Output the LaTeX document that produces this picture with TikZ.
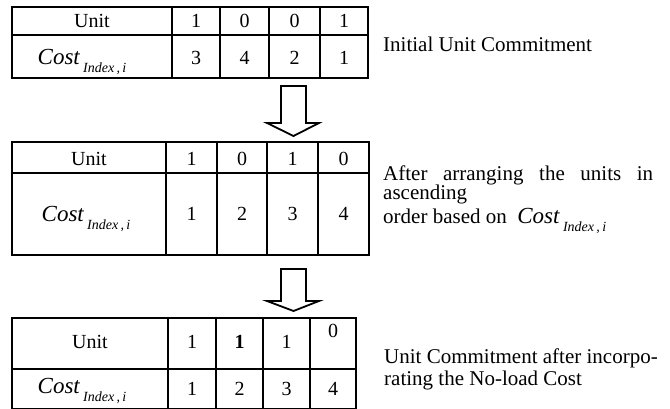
\documentclass[tikz,border=0pt]{standalone}
\usepackage{fontspec}
\setmainfont{Liberation Serif}
\newcommand{\costidx}{{\fontsize{23}{23}\selectfont\itshape Cost}\,{\fontsize{14}{14}\selectfont\itshape\raisebox{-8pt}{Index\,,\,i}}}
\tikzset{
  tbl/.style={line width=1.2pt, black},
  cell/.style={anchor=base, inner sep=0pt, font=\fontsize{20}{24}\selectfont},
  side/.style={anchor=base west, inner sep=0pt, font=\fontsize{21}{25}\selectfont},
  blockarrow/.style={line width=1.8pt, black, line join=miter, fill=white}
}
\begin{document}
\begin{tikzpicture}[x=1pt,y=-1pt]
\useasboundingbox (0,0) rectangle (670,409);
% ---------- table 1 ----------
\draw[tbl] (12,7) rectangle (368,78);
\draw[tbl] (12,35) -- (368,35);
\foreach \x in {172,220,269,320} \draw[tbl] (\x,7) -- (\x,78);
\node[cell] (t1u) at (92,28) {Unit};
\node[cell] (t1a) at (196,28) {1};
\node[cell] (t1b) at (244.5,28) {0};
\node[cell] (t1c) at (294.5,28) {0};
\node[cell] (t1d) at (344,28) {1};
\node[cell] (t1k) at (82,65) {\costidx};
\node[cell] (t1e) at (196,65) {3};
\node[cell] (t1f) at (244.5,65) {4};
\node[cell] (t1g) at (294.5,65) {2};
\node[cell] (t1h) at (344,65) {1};
\node[side] (l1) at (383,52) {Initial Unit Commitment};
% ---------- arrow 1 ----------
\draw[blockarrow] (281,86) -- (306,86) -- (306,123) -- (319,123) -- (293.5,136) -- (267,123) -- (281,123) -- cycle;
% ---------- table 2 ----------
\draw[tbl] (12,142) rectangle (369,255);
\draw[tbl] (12,173) -- (369,173);
\foreach \x in {166,217,267,318} \draw[tbl] (\x,142) -- (\x,255);
\node[cell] (t2u) at (89,166) {Unit};
\node[cell] (t2a) at (191.5,166) {1};
\node[cell] (t2b) at (242,166) {0};
\node[cell] (t2c) at (292.5,166) {1};
\node[cell] (t2d) at (343.5,166) {0};
\node[cell] (t2k) at (86,222) {\costidx};
\node[cell] (t2e) at (191.5,221) {1};
\node[cell] (t2f) at (242,221) {2};
\node[cell] (t2g) at (292.5,221) {3};
\node[cell] (t2h) at (343.5,221) {4};
\node[side] (l2a) at (383,181) {\makebox[270pt][s]{After arranging the units in}};
\node[side] (l2b) at (383,200) {ascending};
\node[side] (l2c) at (383,224) {order based on\enspace\costidx};
% ---------- arrow 2 ----------
\draw[blockarrow] (281,269) -- (306,269) -- (306,301) -- (319,301) -- (293.5,311) -- (267,301) -- (281,301) -- cycle;
% ---------- table 3 ----------
\draw[tbl] (12,409) -- (12,318) -- (356,318) -- (356,409);
\draw[tbl] (12,369) -- (356,369);
\draw[tbl] (12,408.4) -- (356,408.4);
\foreach \x in {168,216,263,310} \draw[tbl] (\x,318) -- (\x,409);
\node[cell] (t3u) at (90,348) {Unit};
\node[cell] (t3a) at (192,348) {1};
\node[cell] (t3b) at (239.5,348) {\textbf{1}};
\node[cell] (t3c) at (286.5,348) {1};
\node[cell] (t3d) at (333,337) {0};
\node[cell] (t3k) at (82,393) {\costidx};
\node[cell] (t3e) at (192,395) {1};
\node[cell] (t3f) at (239.5,395) {2};
\node[cell] (t3g) at (286.5,395) {3};
\node[cell] (t3h) at (333,395) {4};
\node[side] (l3a) at (384,363) {Unit Commitment after incorpo-};
\node[side] (l3b) at (384,385) {rating the No-load Cost};
\end{tikzpicture}
\end{document}
